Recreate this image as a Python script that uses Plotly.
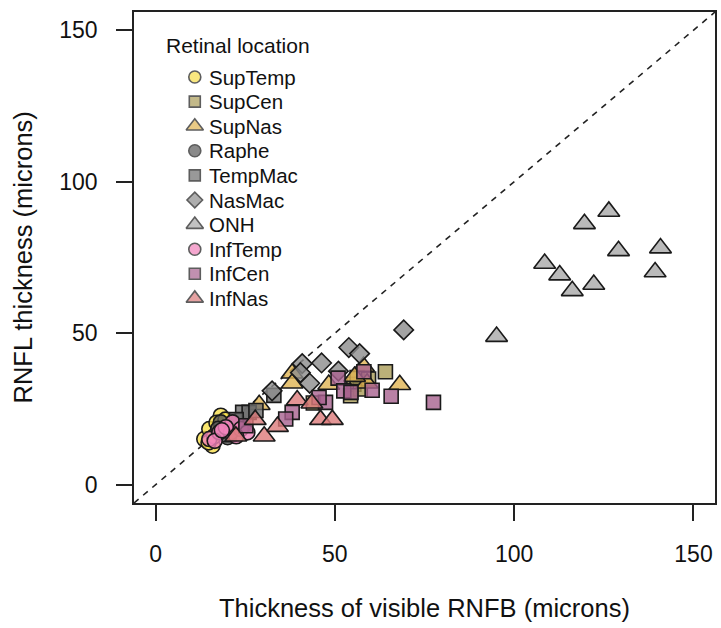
import plotly.graph_objects as go

# ---------------- data ----------------
groups = ["SupTemp", "SupCen", "SupNas", "Raphe", "TempMac",
          "NasMac", "ONH", "InfTemp", "InfCen", "InfNas"]

suptemp_x = [13.6, 15.0, 15.9, 18.2, 14.8, 17.0, 16.3, 19.5]
suptemp_y = [15.1, 18.4, 12.9, 22.8, 14.0, 20.5, 16.0, 21.5]

supcen_x = [64.1, 55.3, 57.1, 56.2, 59.4, 54.4, 44.0]
supcen_y = [37.3, 33.2, 31.6, 35.4, 34.9, 29.4, 27.0]

supnas_x = [68.1, 58.0, 48.3, 38.1, 59.0, 28.9, 38.1, 55.5]
supnas_y = [33.0, 39.0, 33.1, 36.8, 33.5, 26.4, 33.5, 35.7]

raphe_x = [18.2, 20.1, 19.0, 21.5, 23.0, 17.5, 24.5]
raphe_y = [20.6, 15.7, 17.0, 19.0, 21.0, 18.5, 19.5]

tempmac_x = [24.3, 26.1, 33.0, 22.5, 28.0, 20.5]
tempmac_y = [23.9, 23.9, 29.5, 21.5, 24.5, 16.5]

nasmac_x = [69.2, 53.9, 56.9, 46.3, 40.9, 40.4, 43.0, 32.5, 51.0]
nasmac_y = [51.1, 45.3, 43.3, 40.2, 40.0, 37.0, 33.5, 31.0, 37.5]

onh_x = [95.1, 108.5, 112.7, 116.2, 122.2, 119.6, 126.4, 129.1, 140.8, 139.3]
onh_y = [48.9, 73.0, 69.2, 64.0, 66.1, 86.1, 90.2, 77.2, 78.1, 70.2]

inftemp_x = [15.0, 17.8, 21.0, 21.5, 23.8, 25.6, 19.6, 16.5, 22.5, 18.5]
inftemp_y = [15.1, 17.3, 17.3, 20.6, 18.4, 17.3, 19.0, 14.5, 16.0, 18.0]

infcen_x = [77.5, 65.7, 60.4, 58.1, 50.9, 52.5, 54.5, 38.1, 36.3, 25.2, 47.4, 45.6]
infcen_y = [27.2, 29.2, 31.2, 37.3, 35.2, 31.0, 30.5, 23.9, 21.7, 19.5, 27.2, 28.8]

infnas_x = [39.5, 43.6, 46.0, 49.3, 34.0, 27.8, 30.3, 22.4]
infnas_y = [28.0, 26.9, 21.5, 21.5, 19.2, 21.5, 16.0, 16.0]

xs = [suptemp_x, supcen_x, supnas_x, raphe_x, tempmac_x,
      nasmac_x, onh_x, inftemp_x, infcen_x, infnas_x]
ys = [suptemp_y, supcen_y, supnas_y, raphe_y, tempmac_y,
      nasmac_y, onh_y, inftemp_y, infcen_y, infnas_y]

tick_vals = [0, 50, 100, 150]
axis_range = [-6, 156]

# ---------------- styles ----------------
colors = ["#f7de4a", "#aa9c58", "#e0b452", "#5a5a5a", "#6e6e6e",
          "#8c8c8c", "#a9a9a9", "#f283bb", "#a8628f", "#dc7b7b"]
symbols = ["circle", "square", "triangle-up", "circle", "square",
           "diamond", "triangle-up", "circle", "square", "triangle-up"]
data_size = {"circle": 15, "square": 14, "triangle-up": 19, "diamond": 15}
leg_size = {"circle": 12, "square": 11, "triangle-up": 15, "diamond": 12}
FONT = "Liberation Sans, Arial, Helvetica, sans-serif"


def rgba(hexc, a):
    h = hexc.lstrip("#")
    r, g, b = int(h[0:2], 16), int(h[2:4], 16), int(h[4:6], 16)
    return f"rgba({r},{g},{b},{a})"


fig = go.Figure()

# diagonal identity line
fig.add_shape(type="line", xref="x", yref="y",
              x0=axis_range[0], y0=axis_range[0], x1=axis_range[1], y1=axis_range[1],
              line=dict(color="#222222", width=1.6, dash="6px,6px"), layer="below")

for name, x, y, c, s in zip(groups, xs, ys, colors, symbols):
    fig.add_trace(go.Scatter(
        x=x, y=y, mode="markers", name=name, showlegend=False,
        marker=dict(symbol=s, size=data_size[s], color=rgba(c, 0.8),
                    line=dict(color="#1a1a1a", width=1.6)),
    ))

# ---------------- manual legend (pixel-like overlay axes) ----------------
PLOT_W, PLOT_H = 583, 491
leg_row0 = 65.0     # px below plot top
leg_step = 24.6
leg_mx = 61
leg_tx = 73
rows = list(range(len(groups)))
fig.add_trace(go.Scatter(
    x=[leg_mx] * len(groups), y=[leg_row0 + leg_step * r for r in rows],
    xaxis="x2", yaxis="y2", mode="markers", showlegend=False, hoverinfo="skip",
    marker=dict(symbol=symbols, size=[leg_size[s] for s in symbols], color=colors,
                line=dict(color="#1a1a1a", width=1.6)),
))

annotations = []
for r, name in zip(rows, groups):
    annotations.append(dict(x=leg_tx, y=leg_row0 + leg_step * r, xref="x2", yref="y2",
                            text=name, showarrow=False, xanchor="left", yanchor="middle",
                            font=dict(family=FONT, size=20.5, color="#111111")))
annotations.append(dict(x=30, y=33, xref="x2", yref="y2", text="Retinal location",
                        showarrow=False, xanchor="left", yanchor="middle",
                        font=dict(family=FONT, size=21, color="#111111")))
# axis titles
annotations.append(dict(x=0.5, y=0, xref="paper", yref="paper", yshift=-105,
                        text="Thickness of visible RNFB (microns)", showarrow=False,
                        xanchor="center", yanchor="middle",
                        font=dict(family=FONT, size=25.5, color="#111111")))
annotations.append(dict(x=0, y=0.5, xref="paper", yref="paper", xshift=-112,
                        text="RNFL thickness (microns)", showarrow=False, textangle=-90,
                        xanchor="center", yanchor="middle",
                        font=dict(family=FONT, size=25.5, color="#111111")))

axis_common = dict(range=axis_range, tickvals=tick_vals, ticks="outside", ticklen=16,
                   tickwidth=1.5, tickcolor="#222222", showgrid=False, zeroline=False,
                   showline=True, mirror=True, linecolor="#222222", linewidth=1.6,
                   tickfont=dict(family=FONT, size=23, color="#111111"))

fig.update_layout(
    width=721, height=628,
    margin=dict(l=134, r=4, t=12, b=125),
    paper_bgcolor="white", plot_bgcolor="white",
    xaxis=dict(**axis_common, ticklabelstandoff=14),
    yaxis=dict(**axis_common, ticklabelstandoff=14),
    xaxis2=dict(range=[0, PLOT_W], overlaying="x", anchor="y2", visible=False, fixedrange=True),
    yaxis2=dict(range=[PLOT_H, 0], overlaying="y", anchor="x2", visible=False, fixedrange=True),
    annotations=annotations,
    showlegend=False,
)

fig.write_html("out.html")
